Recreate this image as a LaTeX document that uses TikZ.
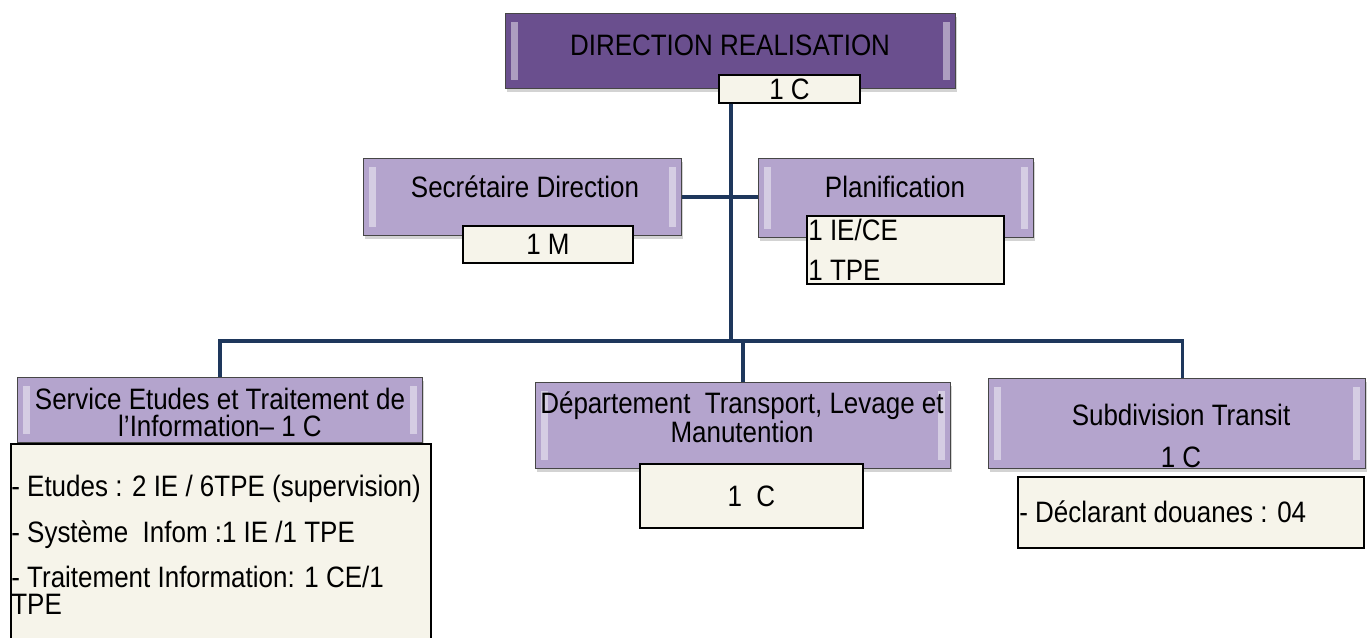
\documentclass[tikz,border=0pt]{standalone}
\usepackage{fontspec}
\setmainfont{Liberation Sans}[FakeStretch=0.88]
\usepackage{tikz}
\usetikzlibrary{shadows}

\definecolor{plumdark}{RGB}{106,79,142}
\definecolor{lavender}{RGB}{180,164,205}
\definecolor{creambox}{RGB}{246,244,234}
\definecolor{linknavy}{RGB}{30,55,92}

\tikzset{
  bevel/.style={path picture={
      \fill[white,opacity=.45] ([xshift=3pt,yshift=-5pt]path picture bounding box.north west)
        rectangle ([xshift=7pt,yshift=5pt]path picture bounding box.south west);
      \fill[white,opacity=.45] ([xshift=-7pt,yshift=-5pt]path picture bounding box.north east)
        rectangle ([xshift=-3pt,yshift=5pt]path picture bounding box.south east);
  }},
  headbox/.style={rectangle, draw=gray!55!black, line width=0.6pt, fill=#1,
    inner sep=0pt, anchor=north west, bevel,
    drop shadow={shadow xshift=0.6pt, shadow yshift=-1.8pt, opacity=.35}},
  headbox/.default=lavender,
  staffbox/.style={rectangle, draw=black, line width=1.1pt, fill=creambox,
    inner sep=0pt, anchor=north west, font=\fontsize{16.8}{15.4}\selectfont},
  unittxt/.style={font=\fontsize{16.8}{15.4}\selectfont, align=center, inner sep=0pt},
  stafftxt/.style={font=\fontsize{16.8}{15.4}\selectfont, align=left, inner sep=0pt},
  link/.style={draw=linknavy, line width=2.2pt, line join=miter}
}

\begin{document}
\begin{tikzpicture}[x=0.02cm, y=-0.02cm]
    \useasboundingbox (0,0) rectangle (1368,637);

    % Direction at the top
    \node[headbox=plumdark, minimum width=9cm, minimum height=1.5cm] (dir) at (505,13) {};
    \node[unittxt] (dirtxt) at (730,45) {DIRECTION REALISATION};
    \node[staffbox, minimum width=2.82cm, minimum height=0.56cm] (dirstaff) at (718,74) {1 C};

    % Secretary and planning
    \node[headbox, minimum width=6.36cm, minimum height=1.54cm] (sec) at (363,158) {};
    \node[unittxt] (sectxt) at (525,187) {Secrétaire Direction};
    \node[staffbox, minimum width=3.4cm, minimum height=0.74cm] (secstaff) at (462,225) {1 M};

    \node[headbox, minimum width=5.5cm, minimum height=1.58cm] (plan) at (758,158) {};
    \node[unittxt] (plantxt) at (895,187) {Planification};
    \node[staffbox, minimum width=3.94cm, minimum height=1.36cm] (planstaff) at (806,215) {};
    \node[stafftxt, anchor=west] (planstafftxt) at (808,250) {1 IE/CE\\[7.4pt]1 TPE};

    % Service etudes
    \node[headbox, minimum width=8.1cm, minimum height=1.3cm] (serv) at (17,377) {};
    \node[unittxt] (servtxt) at (220,412) {Service Etudes et Traitement de\\l'Information– 1 C};
    \node[staffbox, minimum width=8.4cm, minimum height=4.04cm] (servstaff) at (10,443) {};
    \node[stafftxt, anchor=north west] (servstafftxt) at (11,475)
        {- Etudes : 2 IE / 6TPE (supervision)\\[9pt]- Système~ Infom :1 IE /1 TPE\\[9pt]- Traitement Information: 1 CE/1\\TPE};

    % Departement transport
    \node[headbox, minimum width=8.3cm, minimum height=1.72cm] (dep) at (535,382) {};
    \node[unittxt] (deptxt) at (742,417) {Département~ Transport, Levage et\\Manutention};
    \node[staffbox, minimum width=4.46cm, minimum height=1.28cm] (depstaff) at (639,463) {1~ C};

    % Subdivision transit
    \node[headbox, minimum width=7.54cm, minimum height=1.8cm] (sub) at (988,378) {};
    \node[unittxt] (subtxt) at (1181,436) {Subdivision Transit\\[8.5pt]1 C};
    \node[staffbox, minimum width=6.92cm, minimum height=1.42cm] (substaff) at (1017,476) {};
    \node[stafftxt, anchor=west] (substafftxt) at (1019,512) {- Déclarant douanes : 04};

    % Connectors
    \coordinate (hub) at (731,341);
    \draw[link] ([xshift=0.26cm]dirstaff.south west) -- (hub);
    \draw[link] (sec.east) -- (sec.east -| plan.west);
    \draw[link] (serv.north) |- (hub) -| ([xshift=0.11cm]sub.north);
    \draw[link] (hub) -- (hub -| dep.north) -- (dep.north);

\end{tikzpicture}
\end{document}
